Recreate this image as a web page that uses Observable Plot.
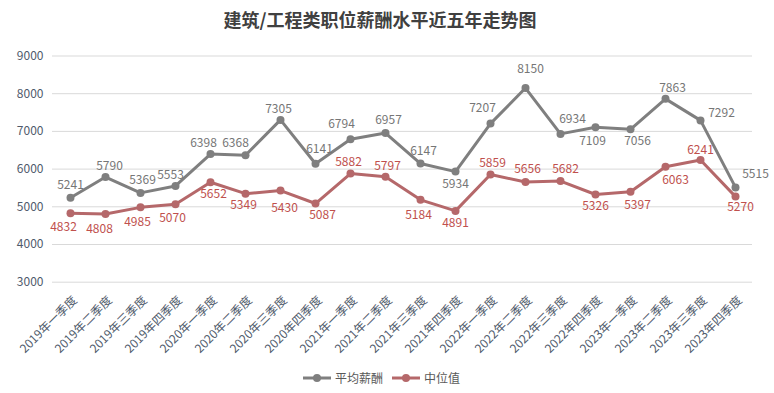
<!DOCTYPE html>
<html>
<head>
<meta charset="utf-8">
<script src="https://cdn.jsdelivr.net/npm/d3@7"></script>
<script src="https://cdn.jsdelivr.net/npm/@observablehq/plot@0.6"></script>
<style>
  html, body { margin: 0; padding: 0; background: #fff; }
  body { width: 774px; height: 393px; position: relative; overflow: hidden;
         font-family: "Microsoft YaHei", "Noto Sans CJK SC", sans-serif; }
  #title { position: absolute; left: 0; top: 0; width: 760px; height: 39px; line-height: 39px;
           text-align: center; font-size: 18px; font-weight: bold; color: #404040; }
  #chart { position: absolute; left: 0; top: 40px; }
  #legend { position: absolute; left: 0; top: 369px; width: 774px; height: 18px; }
  .lg { position: absolute; top: 0; height: 18px; line-height: 18px; font-size: 12px; color: #595959; }
  .lg svg { position: absolute; top: 0; left: 0; }
  .lg span { position: absolute; top: 0; white-space: nowrap; }
</style>
</head>
<body>
<div id="title">建筑/工程类职位薪酬水平近五年走势图</div>
<div id="chart"></div>
<div id="legend"></div>
<script>
// ---- data ----
const categories = [
  "2019年一季度","2019年二季度","2019年三季度","2019年四季度",
  "2020年一季度","2020年二季度","2020年三季度","2020年四季度",
  "2021年一季度","2021年二季度","2021年三季度","2021年四季度",
  "2022年一季度","2022年二季度","2022年三季度","2022年四季度",
  "2023年一季度","2023年二季度","2023年三季度","2023年四季度"
];
const avgSalary = [5241,5790,5369,5553,6398,6368,7305,6141,6794,6957,6147,5934,7207,8150,6934,7109,7056,7863,7292,5515];
const medianSalary = [4832,4808,4985,5070,5652,5349,5430,5087,5882,5797,5184,4891,5859,5656,5682,5326,5397,6063,6241,5270];
const yTicks = [3000,4000,5000,6000,7000,8000,9000];
const seriesNames = ["平均薪酬","中位值"];

// ---- label nudges (pixels, layout only) ----
const avgLabelNudge = [[0,-13],[4,-11],[2,-13],[-5,-11],[-7,-11],[-10,-12],[-2,-11],[4,-15],[-9,-15],[3,-13],
                       [3,-12],[0,13],[-8,-15],[5,-19],[12,-15],[-3,14],[7,12],[7,-11],[21,-7],[20,-13]];
const medLabelNudge = [[-7,14],[-6,15],[-3,15],[-3,14],[3,12],[-2,12],[4,18],[7,12],[-2,-11],[2,-11],
                       [-2,15],[0,12],[2,-11],[2,-13],[5,-12],[0,12],[7,13],[10,13],[0,-10],[5,11]];

const avgColor = "#7f7f7f", medColor = "#b5686a";
const avgLabelColor = "#767676", medLabelColor = "#c0504d";
const axisColor = "#4f5a6b";

const avgData = categories.map((c, i) => ({cat: c, v: avgSalary[i]}));
const medData = categories.map((c, i) => ({cat: c, v: medianSalary[i]}));

const font = '"Microsoft YaHei", "Noto Sans CJK SC", sans-serif';

const plot = Plot.plot({
  width: 774,
  height: 320,
  marginLeft: 52,
  marginRight: 22,
  marginTop: 15.5,
  marginBottom: 78.3,
  style: {fontFamily: font, fontSize: "12px", background: "transparent"},
  x: {type: "point", domain: categories, padding: 0.5, axis: null},
  y: {domain: [3000, 9000], axis: null},
  marks: [
    Plot.gridY(yTicks, {stroke: "#d9d9d9", strokeOpacity: 1, strokeWidth: 1}),
    Plot.axisY(yTicks, {tickSize: 0, tickPadding: 9, fontSize: 12, fill: axisColor, label: null, tickFormat: d => String(d)}),
    Plot.text(categories, {x: d => d, frameAnchor: "bottom", dx: 4.5, dy: 16, rotate: -45,
      textAnchor: "end", lineAnchor: "middle", fontSize: 12, fill: axisColor}),
    Plot.line(avgData, {x: "cat", y: "v", stroke: avgColor, strokeWidth: 3}),
    Plot.dot(avgData, {x: "cat", y: "v", r: 4, fill: avgColor, stroke: "none"}),
    Plot.line(medData, {x: "cat", y: "v", stroke: medColor, strokeWidth: 3}),
    Plot.dot(medData, {x: "cat", y: "v", r: 4, fill: medColor, stroke: "none"}),
    Plot.text(avgData, {x: "cat", y: "v", text: d => String(d.v), fill: avgLabelColor,
      fontSize: 12, textAnchor: "middle", lineAnchor: "middle", ariaLabel: "avg-labels"}),
    Plot.text(medData, {x: "cat", y: "v", text: d => String(d.v), fill: medLabelColor,
      fontSize: 12, textAnchor: "middle", lineAnchor: "middle", ariaLabel: "med-labels"})
  ]
});
document.getElementById("chart").appendChild(plot);

// apply per-label nudges
const textGroups = d3.select(plot).selectAll('g[aria-label="text"], g[aria-label="avg-labels"], g[aria-label="med-labels"]').nodes();
let avgG = d3.select(plot).select('g[aria-label="avg-labels"]');
let medG = d3.select(plot).select('g[aria-label="med-labels"]');
if (avgG.empty() || medG.empty()) {
  const n = textGroups.length;
  avgG = d3.select(textGroups[n - 2]);
  medG = d3.select(textGroups[n - 1]);
}
avgG.selectAll("text").attr("dx", (d, i) => avgLabelNudge[i][0]).attr("dy", (d, i) => avgLabelNudge[i][1]);
medG.selectAll("text").attr("dx", (d, i) => medLabelNudge[i][0]).attr("dy", (d, i) => medLabelNudge[i][1]);

// legend
const legend = document.getElementById("legend");
const items = [
  {name: seriesNames[0], color: avgColor, left: 303},
  {name: seriesNames[1], color: medColor, left: 392}
];
for (const it of items) {
  const div = document.createElement("div");
  div.className = "lg";
  div.style.left = it.left + "px";
  div.innerHTML = `<svg width="28" height="18"><line x1="0" x2="28" y1="9" y2="9" stroke="${it.color}" stroke-width="3"/><circle cx="14" cy="9" r="4" fill="${it.color}"/></svg><span style="left:32px">${it.name}</span>`;
  legend.appendChild(div);
}
</script>
</body>
</html>
